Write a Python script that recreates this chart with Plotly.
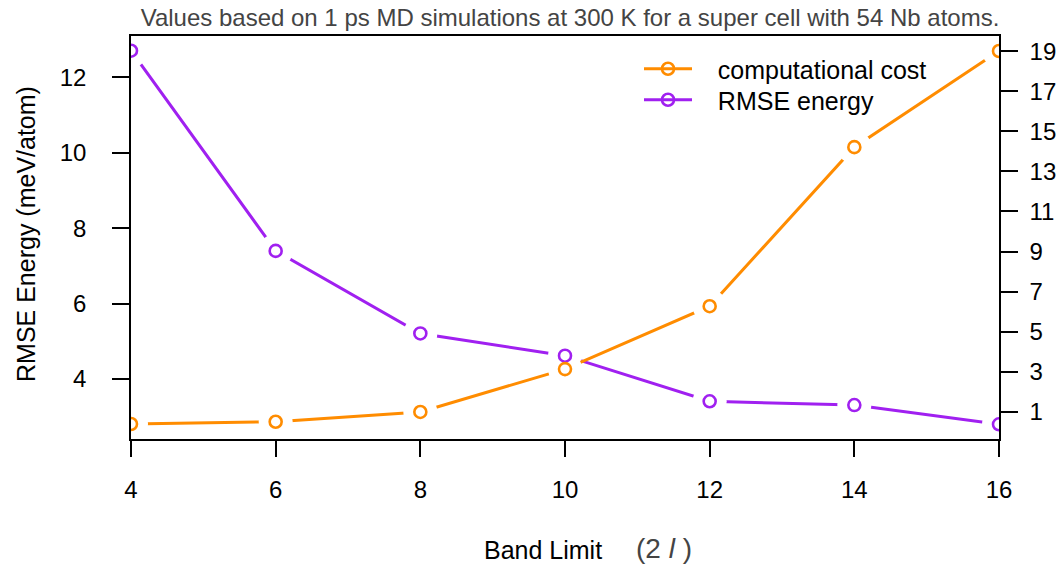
import plotly.graph_objects as go

# Band limit (2l) values on the x axis
band_limit = [4, 6, 8, 10, 12, 14, 16]
# RMSE of the energy, meV/atom (left axis)
rmse_energy = [12.71, 7.40, 5.21, 4.62, 3.41, 3.31, 2.80]
# Relative computational cost (right axis)
comp_cost = [0.39, 0.50, 0.99, 3.13, 6.27, 14.21, 19.01]

x_ticks = [4, 6, 8, 10, 12, 14, 16]
left_ticks = [4, 6, 8, 10, 12]
right_ticks = [1, 3, 5, 7, 9, 11, 13, 15, 17, 19]

left_range = [2.41, 13.10]
right_range = [-0.36, 19.76]

ORANGE = "#FF8C00"
PURPLE = "#A020F0"
FONT = "Liberation Sans, Arial, sans-serif"
LINE_W = 3
RING = dict(symbol="circle-open", size=12, line=dict(width=2.6))
GAP = dict(size=34, color="white", line=dict(width=0))

fig = go.Figure()

# Connecting lines, each followed by white discs that open a gap around the points
fig.add_trace(go.Scatter(x=band_limit, y=rmse_energy, mode="lines", yaxis="y",
                         line=dict(color=PURPLE, width=LINE_W), showlegend=False, hoverinfo="skip"))
fig.add_trace(go.Scatter(x=band_limit, y=rmse_energy, mode="markers", yaxis="y",
                         marker=GAP, showlegend=False, hoverinfo="skip"))
fig.add_trace(go.Scatter(x=band_limit, y=comp_cost, mode="lines", yaxis="y2",
                         line=dict(color=ORANGE, width=LINE_W), showlegend=False, hoverinfo="skip"))
fig.add_trace(go.Scatter(x=band_limit, y=comp_cost, mode="markers", yaxis="y2",
                         marker=GAP, showlegend=False, hoverinfo="skip"))

# Open circle markers on the top-most overlay axes so no disc hides them
fig.add_trace(go.Scatter(x=band_limit, y=rmse_energy, mode="markers", yaxis="y3",
                         marker=dict(**RING, color=PURPLE), showlegend=False,
                         name="RMSE energy"))
fig.add_trace(go.Scatter(x=band_limit, y=comp_cost, mode="markers", yaxis="y4",
                         marker=dict(**RING, color=ORANGE), showlegend=False,
                         name="computational cost"))

# Legend entries, one legend box per row
PAD = "\u00a0\u00a0\u00a0"
fig.add_trace(go.Scatter(x=[None], y=[None], mode="lines+markers", yaxis="y",
                         name=PAD + "computational cost", legend="legend",
                         line=dict(color=ORANGE, width=LINE_W),
                         marker=dict(**RING, color=ORANGE)))
fig.add_trace(go.Scatter(x=[None], y=[None], mode="lines+markers", yaxis="y",
                         name=PAD + "RMSE energy", legend="legend2",
                         line=dict(color=PURPLE, width=LINE_W),
                         marker=dict(**RING, color=PURPLE)))

axis_common = dict(showgrid=False, zeroline=False, showline=True, linecolor="black",
                   linewidth=1.5, ticks="outside", tickcolor="black", tickwidth=1.5,
                   automargin=False,
                   tickfont=dict(family=FONT, size=24, color="black"))

legend_common = dict(xanchor="left", yanchor="middle", bgcolor="rgba(0,0,0,0)",
                     itemwidth=48, borderwidth=0,
                     font=dict(family=FONT, size=25, color="black"))

fig.update_layout(
    width=1063, height=566,
    margin=dict(l=131, r=64, t=36, b=127, autoexpand=False),
    paper_bgcolor="white", plot_bgcolor="white",
    font=dict(family=FONT, color="black"),
    title=dict(text="Values based on 1 ps MD simulations at 300 K for a super cell with 54 Nb atoms.",
               x=0.5 + 5 / 868, xref="paper", xanchor="center", y=1 - 18 / 566, yanchor="middle",
               font=dict(family=FONT, size=24, color="#444444")),
    xaxis=dict(range=[4, 16], tickvals=x_ticks, ticklen=16, mirror=True,
               ticklabelstandoff=12, **axis_common),
    yaxis=dict(range=left_range, tickvals=left_ticks, ticklen=17, ticklabelstandoff=21,
               **axis_common),
    yaxis2=dict(range=right_range, tickvals=right_ticks, ticklen=17, overlaying="y",
                side="right", anchor="x", ticklabelstandoff=7, **axis_common),
    yaxis3=dict(range=left_range, overlaying="y", anchor="x", visible=False),
    yaxis4=dict(range=right_range, overlaying="y", anchor="x", visible=False),
    legend=dict(x=(639 - 131) / 868, y=(439 - 69) / 403, **legend_common),
    legend2=dict(x=(639 - 131) / 868, y=(439 - 100) / 403, **legend_common),
    showlegend=True,
)

# Axis titles
fig.add_annotation(text="RMSE Energy (meV/atom)", xref="paper", yref="paper",
                   x=(26 - 131) / 868, y=(439 - 234) / 403, textangle=-90, showarrow=False,
                   xanchor="center", yanchor="middle",
                   font=dict(family=FONT, size=25, color="black"))
fig.add_annotation(text="Band Limit", xref="paper", yref="paper",
                   x=(543 - 131) / 868, y=(439 - 550) / 403, showarrow=False,
                   xanchor="center", yanchor="middle",
                   font=dict(family=FONT, size=25, color="black"))
fig.add_annotation(text="(2 <i>l</i> )", xref="paper", yref="paper",
                   x=(664 - 131) / 868, y=(439 - 548) / 403, showarrow=False,
                   xanchor="center", yanchor="middle",
                   font=dict(family=FONT, size=28, color="#444444"))

fig.write_html("out.html")
